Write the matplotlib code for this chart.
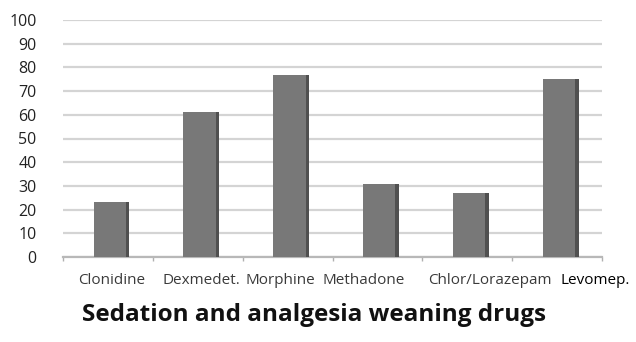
import numpy as np
import matplotlib.pyplot as plt

# Data
drugs = ['Clonidine', 'Dexmedet.', 'Morphine', 'Methadone', 'Chlor/Lorazepam', 'Levomep.']
values = [23, 61, 77, 31, 27, 75]
yticks = [0, 10, 20, 30, 40, 50, 60, 70, 80, 90, 100]
title = 'Sedation and analgesia weaning drugs'

W, H = 636, 342
fig = plt.figure(figsize=(W / 100, H / 100), dpi=100)
ax = fig.add_axes([63 / W, 1 - 257 / H, (602 - 63) / W, (257 - 20) / H])

x = np.arange(len(drugs))
# main bar face + darker right edge for the pseudo-3D look
ax.bar(x + 0.04, values, width=0.40, color='#787878', zorder=3)
ax.bar(x + 0.04 + 0.20 - 0.02, values, width=0.04, color='#505050', zorder=4)

ax.set_xlim(-0.5, len(drugs) - 0.5)
ax.set_ylim(0, 100)
ax.set_yticks(yticks)
ax.set_yticklabels([str(t) for t in yticks], fontsize=11.5, color='#222222',
                   family='Open Sans')
ax.tick_params(axis='y', length=0, pad=19)
ax.yaxis.grid(True, color='#d4d4d4', linewidth=1.6, zorder=0)

ax.set_xticks(np.arange(len(drugs) + 1) - 0.5)
ax.set_xticklabels([])
ax.tick_params(axis='x', length=3, color='#b0b0b0', width=1)

for s in ['top', 'right', 'left']:
    ax.spines[s].set_visible(False)
ax.spines['bottom'].set_color('#b8b8b8')
ax.spines['bottom'].set_linewidth(1.6)

# category labels (squeezed like the original)
label_px = [112, 201, 280, 364, 490, 595]
label_col = ['#3a3a3a'] * 5 + ['#000000']
for name, px, c in zip(drugs, label_px, label_col):
    fig.text(px / W, 1 - 281 / H, name, ha='center', va='center',
             fontsize=11, color=c, family='Open Sans')

fig.text(314 / W, 1 - 315 / H, title, ha='center', va='center',
         fontsize=17.5, fontweight='bold', color='#111111', family='Open Sans')

fig.savefig('out.png', dpi=100)
